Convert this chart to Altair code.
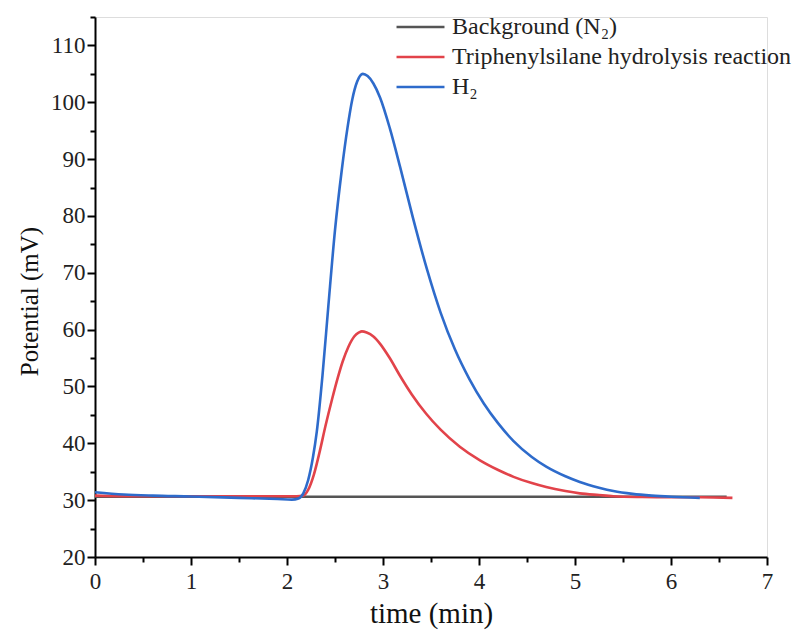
import altair as alt
import pandas as pd

# ---- data ----
names = ["Background (N₂)", "Triphenylsilane hydrolysis reaction", "H₂"]
colors = ["#555555", "#e2434a", "#2e6bcb"]

bg_t = [0.0, 1.0, 2.0, 3.0, 4.0, 5.0, 6.0, 6.58]
bg_v = [30.6, 30.6, 30.6, 30.6, 30.6, 30.6, 30.6, 30.6]

red_t = [0.0, 0.5, 1.0, 1.5, 2.0, 2.1, 2.17, 2.22, 2.28, 2.34, 2.40, 2.47, 2.53,
         2.58, 2.64, 2.70, 2.75, 2.78, 2.83, 2.90, 2.97, 3.07, 3.18, 3.30, 3.45,
         3.60, 3.80, 4.01, 4.20, 4.36, 4.55, 4.70, 4.90, 5.05, 5.25, 5.40, 5.70,
         6.00, 6.30, 6.64]
red_v = [30.8, 30.7, 30.7, 30.7, 30.7, 30.7, 30.8, 31.8, 34.5, 38.5, 43.0, 47.8, 51.6,
         54.4, 57.0, 58.8, 59.5, 59.7, 59.5, 58.8, 57.5, 55.0, 51.8, 48.6, 45.2,
         42.4, 39.4, 37.0, 35.3, 34.1, 33.0, 32.3, 31.6, 31.2, 30.9, 30.7, 30.55,
         30.5, 30.5, 30.4]

blue_t = [0.0, 0.3, 0.6, 1.0, 1.5, 1.9, 2.05, 2.12, 2.17, 2.22, 2.27, 2.31, 2.37,
          2.43, 2.50, 2.57, 2.63, 2.68, 2.73, 2.79, 2.84, 2.90, 2.97, 3.07, 3.18,
          3.31, 3.46, 3.60, 3.75, 3.90, 4.05, 4.20, 4.36, 4.55, 4.70, 4.90, 5.05,
          5.25, 5.40, 5.60, 5.80, 6.00, 6.30]
blue_v = [31.4, 31.0, 30.8, 30.65, 30.4, 30.2, 30.1, 30.3, 31.2, 33.5, 37.5, 42.0, 52.0,
          64.0, 77.5, 88.0, 95.5, 100.5, 103.6, 105.0, 104.6, 103.3, 100.8, 95.5, 88.5,
          79.8, 70.5, 63.0, 56.5, 51.3, 47.0, 43.5, 40.4, 37.6, 35.9, 34.2, 33.2,
          32.2, 31.6, 31.1, 30.8, 30.6, 30.4]

x_ticks = [i * 0.5 for i in range(15)]
y_ticks = list(range(20, 116, 5))

rows = []
for i, (ts, vs) in enumerate([(bg_t, bg_v), (red_t, red_v), (blue_t, blue_v)]):
    for k, (t, v) in enumerate(zip(ts, vs)):
        rows.append({"series": names[i], "order": i, "idx": k, "t": t, "v": v})
df = pd.DataFrame(rows)

FONT = "Liberation Serif"

chart = alt.Chart(df).mark_line(strokeWidth=2.6, interpolate="monotone").encode(
    x=alt.X("t:Q",
            scale=alt.Scale(domain=[0, 7], nice=False, zero=False),
            axis=alt.Axis(title="time (min)", values=x_ticks,
                          labelExpr="datum.value % 1 === 0 ? format(datum.value, 'd') : ''",
                          tickSize={"condition": {"test": "datum.value % 1 !== 0", "value": 5}, "value": 8},
                          grid=False, domainColor="black", domainWidth=2,
                          tickColor="black", tickWidth=2,
                          labelFont=FONT, labelFontSize=23, labelColor="#222",
                          labelPadding=5, labelFlush=False, labelOverlap=False,
                          titleFont=FONT, titleFontSize=29, titleFontWeight="normal",
                          titleColor="#111", titlePadding=6)),
    y=alt.Y("v:Q",
            scale=alt.Scale(domain=[20, 115], nice=False, zero=False),
            axis=alt.Axis(title="Potential (mV)", values=y_ticks,
                          labelExpr="datum.value % 10 === 0 && datum.value <= 110 ? datum.label : ''",
                          tickSize={"condition": {"test": "datum.value % 10 !== 0", "value": 5}, "value": 8},
                          grid=False, domainColor="black", domainWidth=2,
                          tickColor="black", tickWidth=2,
                          labelFont=FONT, labelFontSize=23, labelColor="#222",
                          labelPadding=2, labelFlush=False, labelOverlap=False,
                          titleFont=FONT, titleFontSize=25, titleFontWeight="normal",
                          titleColor="#111", titleAngle=270, titleAlign="center",
                          titleBaseline="middle", titleX=-66, titleY=284)),
    color=alt.Color("series:N",
                    scale=alt.Scale(domain=names, range=colors),
                    legend=alt.Legend(title=None, orient="none", legendX=300, legendY=-2,
                                      symbolType="stroke", symbolSize=2300,
                                      symbolStrokeWidth=2.6, labelFont=FONT,
                                      labelFontSize=24, labelColor="#222",
                                      clipHeight=24,
                                      labelLimit=0, rowPadding=6, labelOffset=6)),
    order=alt.Order("idx:Q"),
    detail="order:N",
).properties(
    width=672, height=540,
    autosize="none",
    padding={"left": 95, "top": 17, "right": 31, "bottom": 80},
).configure_view(stroke=None).configure(background="white")

chart.save("out.html", embed_options={"renderer": "svg", "actions": False})
